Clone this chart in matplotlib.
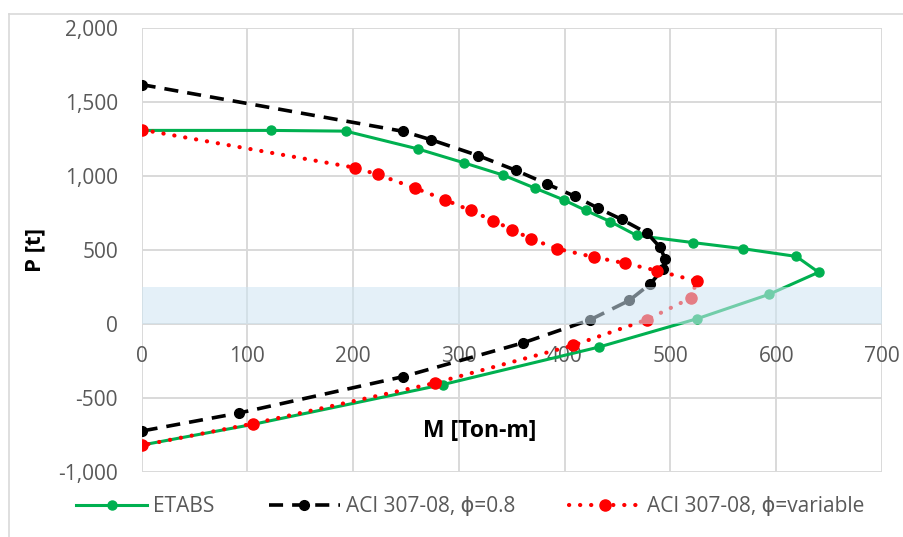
import numpy as np
import matplotlib
matplotlib.use('agg')
from matplotlib import pyplot as plt
from matplotlib.lines import Line2D
from matplotlib.ticker import FuncFormatter

# interaction curves, M [Ton-m] vs P [t]
etabs_m = [0, 122, 193, 261, 305, 342, 372, 399, 420, 443, 468, 521, 569, 619, 640, 593, 525, 432, 285, 105, 0]
etabs_p = [1310, 1310, 1305, 1185, 1090, 1007, 919, 840, 768, 693, 599, 551, 509, 457, 350, 200, 35, -157, -410, -680, -820]

aci08_m = [0, 247, 274, 318, 354, 383, 410, 431, 454, 478, 490, 495, 493, 481, 461, 424, 361, 247, 92, 0]
aci08_p = [1620, 1304, 1246, 1140, 1039, 948, 863, 786, 707, 614, 520, 441, 373, 272, 159, 28, -127, -357, -603, -725]

acivar_m = [0, 202, 223, 258, 287, 311, 332, 350, 368, 393, 428, 457, 487, 525, 519, 478, 408, 277, 105, 0]
acivar_p = [1315, 1057, 1012, 921, 840, 768, 700, 639, 576, 509, 452, 411, 361, 290, 175, 30, -145, -400, -675, -822]

band = (0, 250)
labels = ["ETABS", "ACI 307-08, \u03d5=0.8", "ACI 307-08, \u03d5=variable"]

GREEN = '#00B050'
GRID = '#D9D9D9'
TXT = '#595959'

plt.rcParams['font.family'] = ['Open Sans', 'DejaVu Sans']

fig = plt.figure(figsize=(9.04, 5.37), dpi=100)
ax = fig.add_axes([0.1567, 0.1216, 0.9757 - 0.1567, 0.947 - 0.1216])

ax.plot(etabs_m, etabs_p, color=GREEN, lw=2.2, marker='o', ms=6.5,
        label=labels[0], zorder=3)
ax.plot(aci08_m, aci08_p, color='black', lw=2.6, dashes=(3.9, 2.5),
        marker='o', ms=7, label=labels[1], zorder=4)
ax.plot(acivar_m, acivar_p, color='red', lw=3.0, linestyle=(0, (0.05, 2.6)),
        dash_capstyle='round', marker='o', ms=8, label=labels[2], zorder=5)

# shaded zone drawn over the curves
ax.axhspan(band[0], band[1], color='#CFE5F3', alpha=0.55, lw=0, zorder=6)

ax.set_xlim(0, 700)
ax.set_ylim(-1000, 2000)
ax.set_xticks(np.arange(0, 701, 100))
ax.set_yticks(np.arange(-1000, 2001, 500))
ax.yaxis.set_major_formatter(FuncFormatter(lambda v, p: format(int(v), ',')))
ax.grid(True, color=GRID, lw=1.4, zorder=0)
ax.set_axisbelow(True)

for s in ax.spines.values():
    s.set_visible(False)
ax.spines['bottom'].set_position(('data', 0))
ax.tick_params(axis='both', length=0, labelsize=15, labelcolor=TXT)
ax.tick_params(axis='x', pad=16)
ax.tick_params(axis='y', pad=17)

ax.set_ylabel('P [t]', fontsize=16, fontweight='bold', color='black')
ax.yaxis.set_label_coords(-0.13, 0.5)
ax.text(0.457, 0.092, 'M [Ton-m]', transform=ax.transAxes, fontsize=16.5,
        fontweight='bold', ha='center', va='center')

fig.legend(loc='center', bbox_to_anchor=(0.52, 1 - 507 / 537), ncol=3,
           frameon=False, fontsize=15, handlelength=3.4, columnspacing=2.6,
           handletextpad=0.3, labelcolor=TXT)

# outer chart border (top and left edges visible)
fig.add_artist(Line2D([9 / 904, 1], [1 - 14 / 537] * 2, color=GRID, lw=1.2))
fig.add_artist(Line2D([9 / 904] * 2, [0, 1 - 14 / 537], color=GRID, lw=1.2))

fig.savefig('out.png', dpi=100)
